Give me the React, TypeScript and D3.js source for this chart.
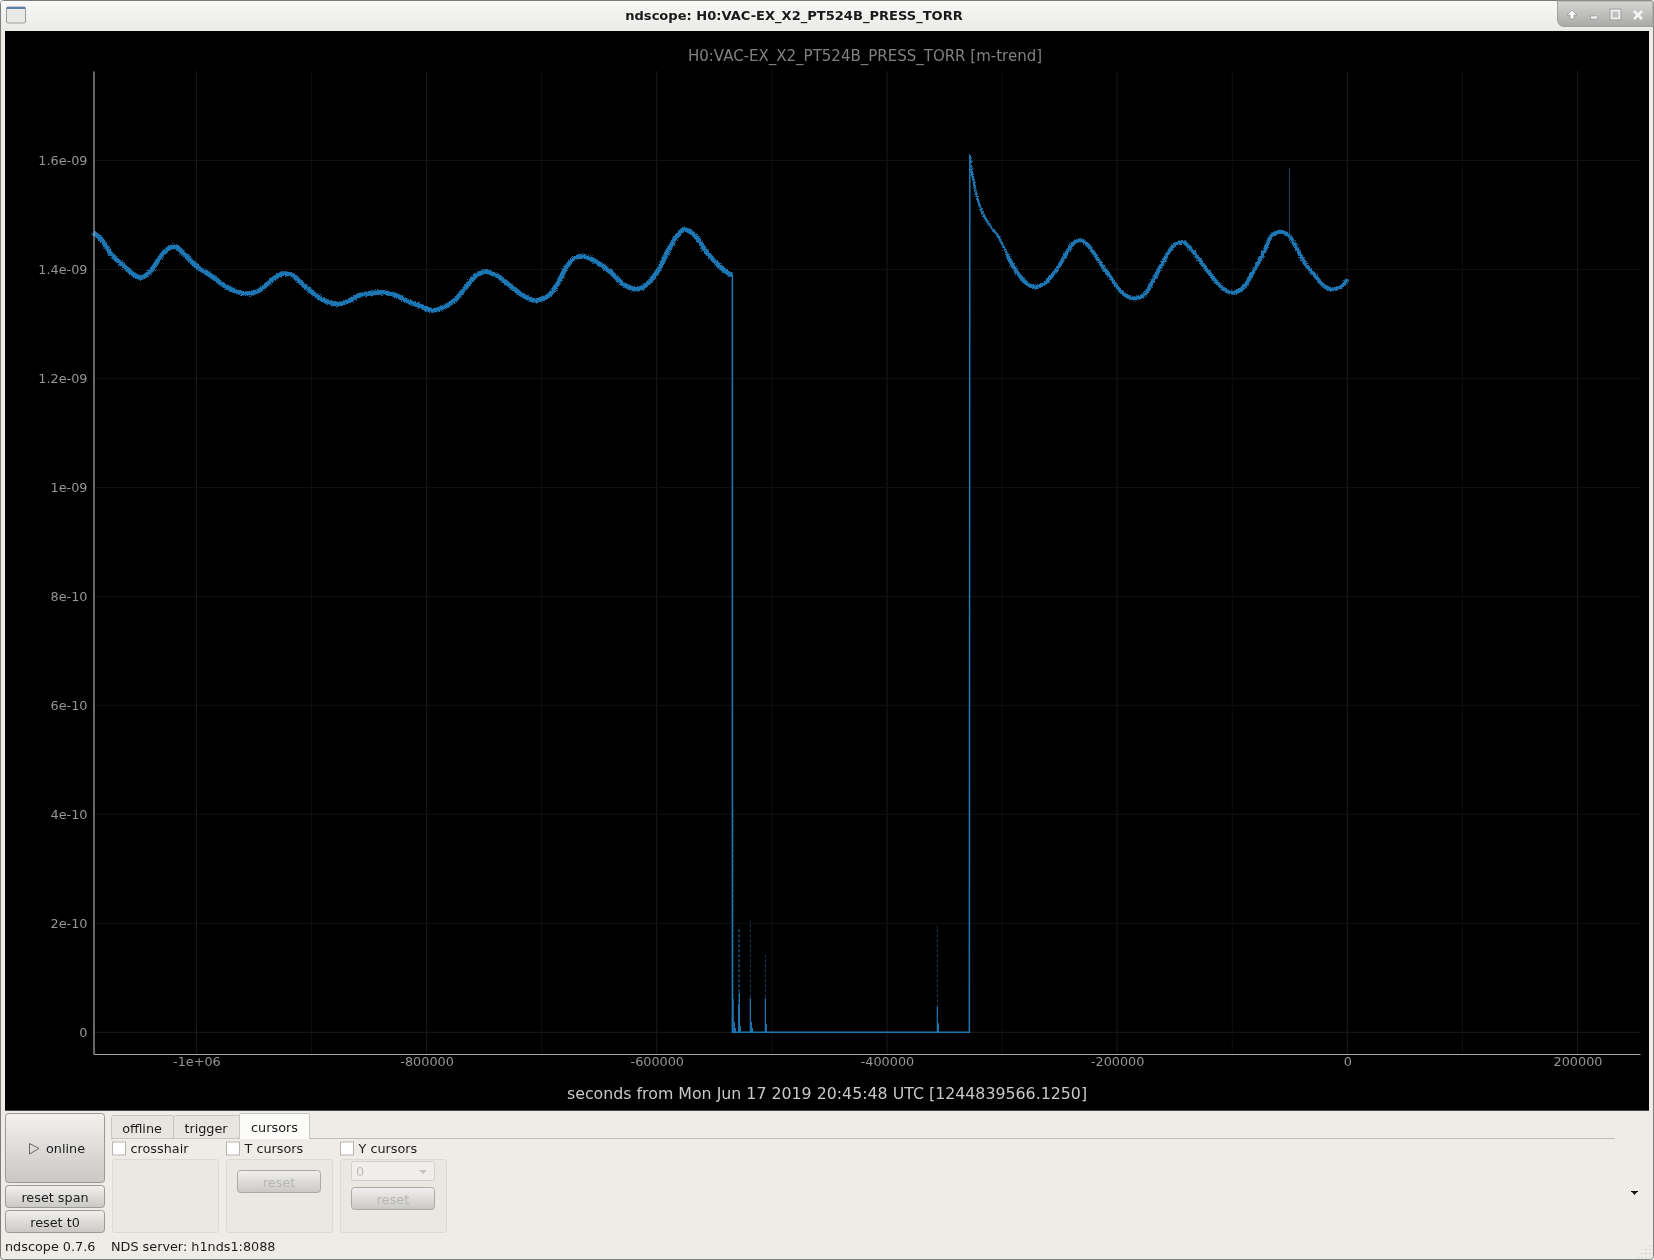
import { useEffect, useRef } from 'react'
import { axisBottom, axisLeft, curveCatmullRom, line, scaleLinear, select } from 'd3'

// trend before the outage, values in units of 1e-9 torr
const beforeTimes = [
  -1089400, -1082200, -1073500, -1063400, -1054800, -1048300, -1040200, -1030100, -1022900, -1017600,
  -1009900, -999700, -988200, -975100, -964900, -954900, -944700, -934500, -924400, -917200,
  -907000, -895400, -885300, -876700, -867900, -859300, -849100, -837500, -827400, -814400,
  -805700, -795500, -786800, -775300, -766600, -757900, -749200, -739000, -727500, -715900,
  -705800, -694200, -686900, -678200, -671000, -662300, -652100, -640600, -629000, -617400,
  -608700, -598600, -588400, -581200, -576300, -566700, -556600, -546500, -539200, -534300,
]
const beforeValues = [
  1.4682, 1.454, 1.4265, 1.4069, 1.3911, 1.3849, 1.3959, 1.4265, 1.4399, 1.4412,
  1.4265, 1.405, 1.3898, 1.3696, 1.3592, 1.3555, 1.3623, 1.3806, 1.3922, 1.3898,
  1.3714, 1.3513, 1.3397, 1.3366, 1.3421, 1.3518, 1.3562, 1.358, 1.3531, 1.3397,
  1.3335, 1.325, 1.3287, 1.3439, 1.3654, 1.3867, 1.3959, 1.3885, 1.3702, 1.3518,
  1.3434, 1.3518, 1.3714, 1.405, 1.4216, 1.4234, 1.4131, 1.3959, 1.3727, 1.3635,
  1.3727, 1.399, 1.4417, 1.4645, 1.4729, 1.4619, 1.4315, 1.4082, 1.3947, 1.3898,
]

// pump-down decay right after the outage
const decayTimes = [-328000, -326700, -324300, -321500, -316800, -311900, -303200, -295900]
const decayValues = [1.61, 1.5856, 1.5581, 1.5306, 1.503, 1.4847, 1.4601, 1.4296]

// trend after the decay
const afterTimes = [
  -295900, -290200, -282900, -276300, -269300, -261800, -254000, -246700, -239400, -231600,
  -225000, -216300, -206200, -197500, -190300, -183000, -175800, -168500, -159900, -151200,
  -143000, -135200, -125100, -113500, -104800, -98400, -90400, -81700, -73000, -65700,
  -58500, -51300, -44000, -36800, -28100, -19400, -12200, -4900, 0,
]
const afterValues = [
  1.4296, 1.405, 1.3837, 1.3715, 1.3678, 1.3764, 1.3959, 1.4192, 1.4448, 1.4535,
  1.4436, 1.4173, 1.3867, 1.361, 1.3494, 1.347, 1.3549, 1.3806, 1.4142, 1.443,
  1.4503, 1.4357, 1.4082, 1.3764, 1.3604, 1.3573, 1.3665, 1.3959, 1.4296, 1.4619,
  1.4693, 1.4632, 1.4388, 1.4113, 1.3885, 1.3683, 1.3635, 1.3683, 1.3819,
]

// drop to zero and recovery
const outageTimes = [-534300, -534300, -328400, -328000]
const outageValues = [1.3898, 0, 0, 1.61]

// spikes: solid part and the faint max part above it
const spikeTimes = [-533700, -532600, -531700, -528800, -528200, -527400, -518700, -517800, -516900, -505600, -504800, -356200, -355300]
const spikeSolid = [0.0624, 0.0195, 0.008, 0.052, 0.0716, 0.0116, 0.0624, 0.0195, 0.008, 0.0624, 0.0152, 0.047, 0.0165]
const spikeFaint = [0.414, 0, 0, 0.19, 0.194, 0, 0.2043, 0, 0, 0.1419, 0, 0.195, 0]
const glitchTime = -50300
const glitchValue = 1.5856

const xTicks = [-1000000, -800000, -600000, -400000, -200000, 0, 200000]
const xMinorTicks = [-900000, -700000, -500000, -300000, -100000, 100000]
const yTicks = [0, 0.2, 0.4, 0.6, 0.8, 1, 1.2, 1.4, 1.6]
const yTickLabels = ['0', '2e-10', '4e-10', '6e-10', '8e-10', '1e-09', '1.2e-09', '1.4e-09', '1.6e-09']

const plot = { left: 93.5, right: 1640, top: 71, bottom: 1054 }
const uiFont = '"DejaVu Sans", sans-serif'
const uiSize = 12.8
const traceColor = '#1f77b4'

const xScale = scaleLinear().domain([-1089400, 254300]).range([plot.left, plot.right])
const yScale = scaleLinear().domain([-0.0398, 1.7642]).range([plot.bottom, plot.top])

const zipPoints = (times: number[], values: number[]) =>
  times.map((t, i) => [t, values[i]] as [number, number])

const trendPath = line<[number, number]>()
  .x((d) => xScale(d[0]))
  .y((d) => yScale(d[1]))
  .curve(curveCatmullRom)

const straightPath = line<[number, number]>()
  .x((d) => xScale(d[0]))
  .y((d) => yScale(d[1]))

function formatX(value: number) {
  return value === -1000000 ? '-1e+06' : String(value)
}

function Button({ x, y, w, h, label, disabled }: any) {
  return (
    <g>
      <rect x={x} y={y} width={w} height={h} rx={3} fill="url(#buttonFill)" stroke={disabled ? '#a9a9a6' : '#9a9a97'} />
      {label ? (
        <text x={x + w / 2} y={y + h / 2 + 5} textAnchor="middle" fontSize={uiSize} fill={disabled ? '#b6b6b4' : '#1c1c1c'}>
          {label}
        </text>
      ) : null}
    </g>
  )
}

function CheckGroup({ x, label }: { x: number; label: string }) {
  return (
    <g>
      <rect x={x} y={1142} width={13} height={13} fill="#ffffff" stroke="#b4b3b0" />
      <text x={x + 18} y={1153} fontSize={uiSize} fill="#1c1c1c">
        {label}
      </text>
      <rect x={x} y={1159.5} width={106} height={73} rx={2} fill="#ebe8e3" stroke="#dcdad5" />
    </g>
  )
}

export default function App() {
  const xAxisRef = useRef<SVGGElement>(null)
  const yAxisRef = useRef<SVGGElement>(null)

  useEffect(() => {
    if (!xAxisRef.current || !yAxisRef.current) return

    const xAxis = select(xAxisRef.current).call(
      axisBottom(xScale).tickValues(xTicks).tickSize(0).tickPadding(3).tickFormat((v) => formatX(Number(v))),
    )
    const yAxis = select(yAxisRef.current).call(
      axisLeft(yScale).tickValues(yTicks).tickSize(0).tickPadding(6).tickFormat((_, i) => yTickLabels[i]),
    )
    for (const axis of [xAxis, yAxis]) {
      axis.select('.domain').attr('stroke', '#a8a8a8').attr('stroke-width', 1.2)
      axis.selectAll('text').attr('fill', '#969696').attr('font-size', uiSize).attr('font-family', uiFont)
    }
  }, [])

  // band widths of the min/max trend, in px
  const traces = [
    { points: zipPoints(beforeTimes, beforeValues), width: 4.8 },
    { points: zipPoints(decayTimes, decayValues), width: 2.4 },
    { points: zipPoints(afterTimes, afterValues), width: 4 },
  ]

  return (
    <svg
      width={1654}
      height={1260}
      viewBox="0 0 1654 1260"
      fontFamily={uiFont}
      style={{ position: 'fixed', left: 0, top: 0, display: 'block' }}
    >
      <defs>
        <linearGradient id="buttonFill" x1="0" x2="0" y1="0" y2="1">
          <stop offset="0" stopColor="#f2f1ef" />
          <stop offset="1" stopColor="#c9c8c6" />
        </linearGradient>
        <linearGradient id="titleFill" x1="0" x2="0" y1="0" y2="1">
          <stop offset="0" stopColor="#f8f8f7" />
          <stop offset="1" stopColor="#e9e9e7" />
        </linearGradient>
        <linearGradient id="cornerFill" x1="0" x2="0" y1="0" y2="1">
          <stop offset="0" stopColor="#d6d6d4" />
          <stop offset="1" stopColor="#a9a9a7" />
        </linearGradient>
        {/* rough edge of the band, only a texture on the stroke */}
        <filter id="bandEdge" filterUnits="userSpaceOnUse" x={80} y={130} width={1300} height={220}>
          <feTurbulence type="fractalNoise" baseFrequency={0.85} numOctaves={2} seed={4} result="grain" />
          <feDisplacementMap in="SourceGraphic" in2="grain" scale={3.5} xChannelSelector="R" yChannelSelector="G" />
        </filter>
      </defs>

      {/* window */}
      <rect x={0.5} y={0.5} width={1653} height={1259} rx={3} fill="#efece7" stroke="#7d7d7b" />
      <rect x={1} y={1} width={1652} height={30} rx={2} fill="url(#titleFill)" />
      <rect x={6.5} y={7} width={19} height={16} rx={1} fill="#e9e9e7" stroke="#9a9a98" />
      <rect x={7} y={7} width={18} height={2} fill="#5a7fb5" />
      <text x={794} y={20} textAnchor="middle" fontSize={13.05} fontWeight="bold" fill="#1a1a1a">
        ndscope: H0:VAC-EX_X2_PT524B_PRESS_TORR
      </text>
      <path d="M1557.5 1 V19 Q1557.5 26 1564 26.5 H1653 V1 Z" fill="url(#cornerFill)" stroke="#a0a09e" />
      <path d="M1572 10 l5 5 h-3 v4 h-4 v-4 h-3 z" fill="#f5f5f5" stroke="#8a8a8a" strokeWidth={0.6} />
      <rect x={1590.5} y={16} width={7} height={3} fill="#f5f5f5" stroke="#8a8a8a" strokeWidth={0.6} />
      <rect x={1611.5} y={10.5} width={8} height={8} fill="none" stroke="#f0f0f0" strokeWidth={2} />
      <rect x={1610} y={9} width={11} height={11} fill="none" stroke="#8a8a8a" strokeWidth={0.6} />
      <path d="M1634 11 l8 8 M1642 11 l-8 8" stroke="#f5f5f5" strokeWidth={2.6} />

      {/* plot */}
      <rect x={5} y={31} width={1644} height={1079.7} fill="#000000" />
      <text x={865} y={60.5} textAnchor="middle" fontSize={15} fill="#808080">
        H0:VAC-EX_X2_PT524B_PRESS_TORR [m-trend]
      </text>

      <g strokeWidth={1}>
        {xMinorTicks.map((tick) => (
          <line key={tick} x1={xScale(tick)} x2={xScale(tick)} y1={plot.top} y2={plot.bottom} stroke="#0e0e0e" />
        ))}
        {xTicks.map((tick) => (
          <line key={tick} x1={xScale(tick)} x2={xScale(tick)} y1={plot.top} y2={plot.bottom} stroke="#1a1a1a" />
        ))}
        {yTicks.map((tick) => (
          <line key={tick} x1={plot.left} x2={plot.right} y1={yScale(tick)} y2={yScale(tick)} stroke={tick === 0 ? '#1c1c1c' : '#111111'} />
        ))}
      </g>

      <g fill="none" stroke={traceColor} strokeLinejoin="round" filter="url(#bandEdge)">
        {traces.map((trace, i) => (
          <path key={i} d={trendPath(trace.points) ?? ''} strokeWidth={trace.width} />
        ))}
      </g>
      <path d={straightPath(zipPoints(outageTimes, outageValues)) ?? ''} fill="none" stroke={traceColor} strokeWidth={1.5} />
      {spikeTimes.map((t, i) => (
        <g key={t} stroke={traceColor}>
          {spikeFaint[i] > 0 ? (
            <line x1={xScale(t)} x2={xScale(t)} y1={yScale(0)} y2={yScale(spikeFaint[i])} strokeWidth={1} strokeOpacity={0.55} strokeDasharray="3 2" />
          ) : null}
          <line x1={xScale(t)} x2={xScale(t)} y1={yScale(0)} y2={yScale(spikeSolid[i])} strokeWidth={1.2} />
        </g>
      ))}
      <line x1={xScale(glitchTime)} x2={xScale(glitchTime)} y1={yScale(1.46)} y2={yScale(glitchValue)} stroke={traceColor} strokeOpacity={0.6} />

      <g ref={xAxisRef} transform={`translate(0, ${plot.bottom})`} />
      <g ref={yAxisRef} transform={`translate(${plot.left}, 0)`} />
      <text x={827} y={1099} textAnchor="middle" fontSize={15.8} fill="#c8c8c8">
        seconds from Mon Jun 17 2019 20:45:48 UTC [1244839566.1250]
      </text>

      {/* controls */}
      <Button x={5.5} y={1113.5} w={99} h={69} />
      <path d="M29.5 1143.5 L39 1148.5 L29.5 1154 Z" fill="none" stroke="#666" />
      <text x={46} y={1153} fontSize={uiSize} fill="#1c1c1c">online</text>
      <Button x={5.5} y={1185.5} w={99} h={22} label="reset span" />
      <Button x={5.5} y={1210.5} w={99} h={22} label="reset t0" />

      <line x1={111} x2={1615} y1={1138.5} y2={1138.5} stroke="#bdbcb8" />
      <rect x={111.5} y={1115.5} width={62} height={23} rx={2} fill="#e8e5e0" stroke="#c6c5c1" />
      <rect x={173.5} y={1115.5} width={66} height={23} rx={2} fill="#e8e5e0" stroke="#c6c5c1" />
      <path d="M239.5 1139 V1115 Q239.5 1113.5 241 1113.5 H308 Q309.5 1113.5 309.5 1115 V1139" fill="#fbfbfa" stroke="#c6c5c1" />
      <text x={142} y={1132.5} textAnchor="middle" fontSize={uiSize} fill="#1c1c1c">offline</text>
      <text x={206} y={1132.5} textAnchor="middle" fontSize={uiSize} fill="#1c1c1c">trigger</text>
      <text x={274.5} y={1131.5} textAnchor="middle" fontSize={uiSize} fill="#1c1c1c">cursors</text>

      <CheckGroup x={112.5} label="crosshair" />
      <CheckGroup x={226.5} label="T cursors" />
      <CheckGroup x={340.5} label="Y cursors" />
      <Button x={237.5} y={1170.5} w={83} h={22} label="reset" disabled />
      <rect x={351.5} y={1161.5} width={83} height={19} rx={2} fill="#f0eeea" stroke="#d3d1cd" />
      <text x={356} y={1176} fontSize={uiSize} fill="#bcbcba">0</text>
      <path d="M419 1170 h8 l-4 4 z" fill="#c4c4c2" />
      <Button x={351.5} y={1187.5} w={83} h={22} label="reset" disabled />

      <text x={5} y={1251} fontSize={uiSize} fill="#1c1c1c">ndscope 0.7.6</text>
      <text x={111} y={1251} fontSize={uiSize} fill="#1c1c1c">NDS server: h1nds1:8088</text>
      <path d="M1631 1191 h7 v1 h-1 l-2.5 3 l-2.5 -3 h-1 z" fill="#111111" />
      <path d="M1650 1245 v1 M1650 1249 v1 M1650 1253 v1 M1650 1257 v0.8 M1646 1249 v1 M1646 1253 v1 M1646 1257 v0.8 M1642 1253 v1 M1642 1257 v0.8 M1638 1257 v0.8" stroke="#b4b3af" />
    </svg>
  )
}
